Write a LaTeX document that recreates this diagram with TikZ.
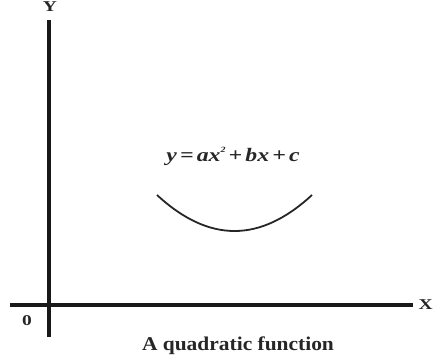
\documentclass[tikz,border=0pt]{standalone}
\usepackage{fontspec}
\setmainfont{Liberation Serif}
\newfontfamily\lblfont[FakeStretch=1.3]{Liberation Serif}
\newfontfamily\eqfont[FakeStretch=1.25]{Liberation Serif}
\newfontfamily\capfont[FakeStretch=1.1]{Liberation Serif}
\begin{document}
\begin{tikzpicture}[x=1pt,y=-1pt,
  axis/.style={line width=3.5pt,black!90},
  curve/.style={line width=1.8pt,black!85},
  lbl/.style={inner sep=0pt,font=\lblfont\fontsize{15}{17}\selectfont\bfseries,text=black!85}]
\useasboundingbox (0,0) rectangle (435,358);
% axes
\coordinate (ytop) at (49,20);
\coordinate (ybot) at (49,337);
\coordinate (xleft) at (10,305);
\coordinate (xright) at (413,305);
\draw[axis] (ybot) -- (ytop);
\draw[axis] (xleft) -- (xright);
% labels
\node[lbl,anchor=base] (ylab) at (50,12) {Y};
\node[lbl,anchor=west] (xlab) at (418.5,305) {X};
\node[lbl] (olab) at (27,321) {0};
% parabola
\coordinate (pl) at (157,195);
\coordinate (pr) at (312,195);
\draw[curve] (pl) .. controls (209,243) and (260,243) .. (pr);
% equation
\node[anchor=base,inner sep=0pt,font=\eqfont\fontsize{19}{22}\selectfont\bfseries\itshape,text=black!85] (eq) at (233,161)
  {y\,=\,ax\raisebox{0.45em}{\fontsize{8}{9}\selectfont 2}\,+\,bx\,+\,c};
% caption
\node[anchor=base,inner sep=0pt,font=\capfont\fontsize{19.5}{22}\selectfont\bfseries,text=black!85] (cap) at (238,350) {A quadratic function};
\end{tikzpicture}
\end{document}
